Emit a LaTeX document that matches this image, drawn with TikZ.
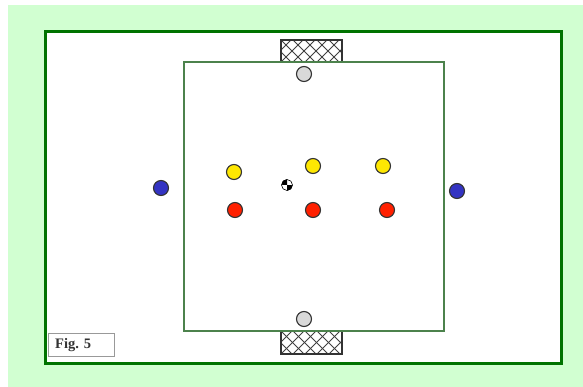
\documentclass[tikz,border=0pt]{standalone}
\usepackage{fontspec}
\setmainfont{Liberation Serif}
\begin{document}
\begin{tikzpicture}[x=1pt,y=-1pt,
  field/.style={draw=green!45!black, line width=3pt},
  inner/.style={draw=green!30!black!70, line width=1.4pt},
  player/.style={circle, draw=black!80, line width=1.1pt, minimum size=15pt, inner sep=0pt},
  goalbox/.style={draw=black!80, line width=1.2pt},
  net/.style={draw=black!75, line width=1pt}]
\useasboundingbox (0,0) rectangle (583,387);
\fill[green!18!white] (8,5) rectangle (583,387);
\fill[white] (45,32) rectangle (561,363);
% goals (nets)
\begin{scope}
\clip (281,40) rectangle (342,62);
\foreach \i in {-2,...,7} {
  \draw[net] (269+12*\i,40) -- ++(22,22);
  \draw[net] (291+12*\i,40) -- ++(-22,22);
}
\end{scope}
\node[goalbox, draw, minimum width=61pt, minimum height=22pt, inner sep=0pt] (goaltop) at (311.5,51) {};
\begin{scope}
\clip (281,331) rectangle (342,354);
\foreach \i in {-2,...,7} {
  \draw[net] (269+12*\i,331) -- ++(23,23);
  \draw[net] (292+12*\i,331) -- ++(-23,23);
}
\end{scope}
\node[goalbox, draw, minimum width=61pt, minimum height=23pt, inner sep=0pt] (goalbot) at (311.5,342.5) {};
% borders
\draw[field] (45,32) rectangle (561,363);
\draw[inner] (184,62) rectangle (444,331);
% players
\node[player, fill=black!15] (gk1) at (304,74) {};
\node[player, fill=black!15] (gk2) at (304,319) {};
\node[player, fill=blue!70!black!80] (b1) at (161,188) {};
\node[player, fill=blue!70!black!80] (b2) at (457,191) {};
\node[player, fill=yellow!90!orange] (y1) at (234,172) {};
\node[player, fill=yellow!90!orange] (y2) at (313,166) {};
\node[player, fill=yellow!90!orange] (y3) at (383,166) {};
\node[player, fill=red!75!orange] (r1) at (235,210) {};
\node[player, fill=red!75!orange] (r2) at (313,210) {};
\node[player, fill=red!75!orange] (r3) at (387,210) {};
% ball
\node[circle, draw=black, line width=0.6pt, minimum size=11pt, inner sep=0pt, fill=white] (ball) at (287,185) {};
\fill[black] (ball.center) -- (ball.north) arc (90:180:5.5pt) -- cycle;
\fill[black] (ball.center) -- (ball.south) arc (270:360:5.5pt) -- cycle;
% label
\node[draw=black!40, line width=0.8pt, minimum width=66pt, minimum height=23pt, inner sep=0pt, fill=white] (fig) at (81,344.5) {};
\node[anchor=west, inner sep=0pt, font=\bfseries\fontsize{14.5}{16}\selectfont, text=black!80] (figtext) at (55,345) {Fig. 5};
\end{tikzpicture}
\end{document}
